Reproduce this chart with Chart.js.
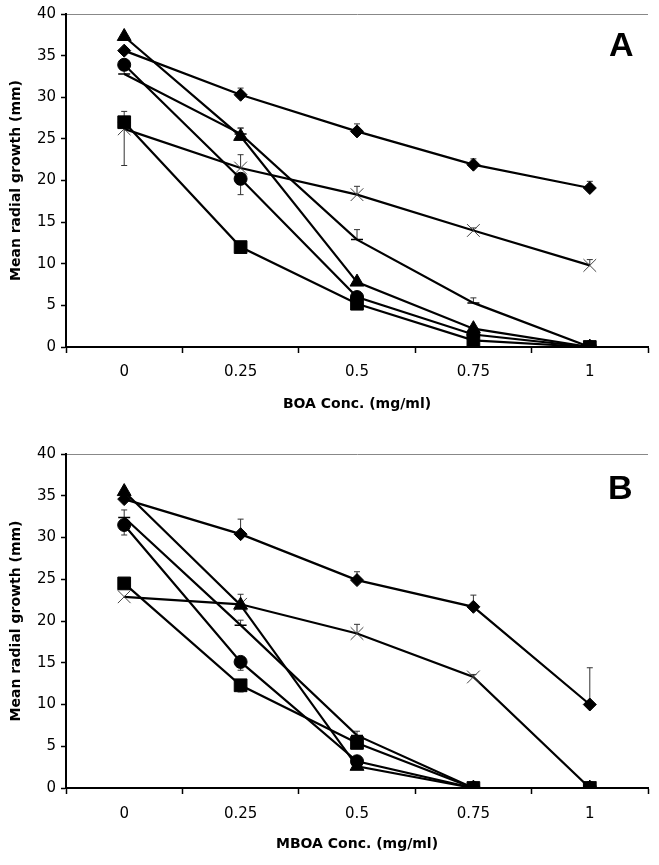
<!DOCTYPE html>
<html>
<head>
<meta charset="utf-8">
<script src="https://cdn.jsdelivr.net/npm/chart.js@4"></script>
<style>
  html, body { margin: 0; padding: 0; background: #fff; }
  .panel { position: absolute; left: 0; width: 659px; }
</style>
</head>
<body>
<div class="panel" style="top:0;height:415px"><canvas id="chartA"></canvas></div>
<div class="panel" style="top:420px;height:445px"><canvas id="chartB"></canvas></div>
<script>
// x categories (mg/ml) and y ticks
const concLabels = ['0', '0.25', '0.5', '0.75', '1'];
const yMin = 0, yMax = 40, yStep = 5;

// Panel A - BOA
const boaDiamond  = [35.6, 30.3, 25.9, 21.9, 19.1];
const boaSquare   = [27.0, 12.0, 5.2, 0.8, 0];
const boaTriangle = [37.3, 25.3, 7.8, 2.2, 0];
const boaCircle   = [33.9, 20.2, 6.0, 1.5, 0];
const boaCross    = [26.2, 21.5, 18.3, 14.0, 9.8];
const boaDash     = [32.8, 25.6, 12.9, 5.3, 0];
// error bars (mm), up / down
const boaDiamondUp  = [0, 0.8, 0.9, 0.7, 0.8];
const boaSquareUp   = [1.3, 0, 0, 0, 0];
const boaSquareDn   = [0, 0.5, 0, 0, 0];
const boaTriangleUp = [0, 1.0, 0, 0, 0];
const boaCircleDn   = [0, 1.9, 0, 0, 0];
const boaCrossUp    = [0, 1.6, 1.0, 0.3, 0.7];
const boaCrossDn    = [4.4, 0, 0, 0, 0];
const boaDashUp     = [0.7, 0.7, 1.2, 0.6, 0];

// Panel B - MBOA
const mboaDiamond  = [34.6, 30.4, 24.9, 21.7, 10.0];
const mboaSquare   = [24.5, 12.3, 5.4, 0, 0];
const mboaTriangle = [35.5, 21.9, 2.6, 0, 0];
const mboaCircle   = [31.5, 15.1, 3.2, 0, 0];
const mboaCross    = [22.9, 22.0, 18.5, 13.3, 0];
const mboaDash     = [32.4, 19.5, 6.3, 0, 0];
const mboaDiamondUp  = [0, 1.8, 1.0, 1.4, 4.4];
const mboaSquareDn   = [0, 0.8, 0, 0, 0];
const mboaTriangleUp = [0, 1.3, 0, 0, 0];
const mboaCircleDn   = [1.2, 1.0, 0, 0, 0];
const mboaCrossUp    = [0, 0, 1.1, 0.3, 0];
const mboaDashUp     = [0.9, 0.6, 0.5, 0, 0];

const markers = {
  square:   { pointStyle: 'rect',     pointRadius: 9,   pointBackgroundColor: '#000', pointBorderColor: '#000', pointBorderWidth: 1 },
  diamond:  { pointStyle: 'rectRot',  pointRadius: 6.5, pointBackgroundColor: '#000', pointBorderColor: '#000', pointBorderWidth: 1 },
  triangle: { pointStyle: 'triangle', pointRadius: 8,   pointBackgroundColor: '#000', pointBorderColor: '#000', pointBorderWidth: 1 },
  circle:   { pointStyle: 'circle',   pointRadius: 6.5, pointBackgroundColor: '#000', pointBorderColor: '#000', pointBorderWidth: 1 },
  cross:    { pointStyle: 'crossRot', pointRadius: 9,   pointBackgroundColor: '#444', pointBorderColor: '#444', pointBorderWidth: 1 },
  dash:     { pointStyle: 'line',     pointRadius: 6,   pointBackgroundColor: '#000', pointBorderColor: '#000', pointBorderWidth: 1.5 }
};

function series(values, marker, up, down) {
  return Object.assign({
    data: values,
    errUp: up || null,
    errDown: down || null,
    borderColor: '#000',
    borderWidth: 2.2,
    tension: 0,
    pointHoverRadius: 0
  }, markers[marker]);
}

// error bars drawn under the lines/markers
const errorBars = {
  id: 'errorBars',
  beforeDatasetsDraw(chart) {
    const ctx = chart.ctx, y = chart.scales.y;
    ctx.save();
    ctx.strokeStyle = '#333';
    ctx.lineWidth = 1;
    chart.data.datasets.forEach((ds, i) => {
      const pts = chart.getDatasetMeta(i).data;
      ds.data.forEach((v, j) => {
        if (v == null) return;
        const x = pts[j].x;
        [[ds.errUp, 1], [ds.errDown, -1]].forEach(([arr, s]) => {
          if (!arr || !arr[j]) return;
          const y0 = y.getPixelForValue(v), y1 = y.getPixelForValue(v + s * arr[j]);
          ctx.beginPath();
          ctx.moveTo(x, y0); ctx.lineTo(x, y1);
          ctx.moveTo(x - 3, y1); ctx.lineTo(x + 3, y1);
          ctx.stroke();
        });
      });
    });
    ctx.restore();
  }
};

const panelLabel = {
  id: 'panelLabel',
  afterDraw(chart, args, opts) {
    const ctx = chart.ctx;
    ctx.save();
    ctx.fillStyle = '#000';
    ctx.font = 'bold 34px "Liberation Sans", Arial, sans-serif';
    ctx.textBaseline = 'alphabetic';
    ctx.fillText(opts.text, opts.x, opts.y);
    ctx.restore();
  }
};

function makeChart(id, sets, xTitle, label, cfg) {
  return new Chart(document.getElementById(id), {
    type: 'line',
    data: { labels: concLabels, datasets: sets },
    options: {
      responsive: true,
      maintainAspectRatio: false,
      animation: false,
      layout: { padding: { top: cfg.top, right: 11, left: 0, bottom: 0 } },
      plugins: {
        legend: { display: false },
        tooltip: { enabled: false },
        panelLabel: label
      },
      scales: {
        x: {
          type: 'category',
          offset: true,
          grid: { offset: true, drawOnChartArea: false, drawTicks: true, tickLength: 6, tickColor: '#000', tickWidth: 1.5 },
          border: { color: '#000', width: 2 },
          ticks: { color: '#000', padding: cfg.xTickPad, font: { family: '"DejaVu Sans", Verdana, sans-serif', size: 15 } },
          title: { display: true, text: xTitle, color: '#000', padding: { top: 0, bottom: cfg.xTitlePad },
                   font: { family: '"DejaVu Sans", Verdana, sans-serif', size: 14, weight: 'bold' } },
          afterFit(scale) { scale.height = cfg.xHeight; }
        },
        y: {
          min: yMin, max: yMax,
          ticks: { stepSize: yStep, color: '#000', padding: 5, font: { family: '"DejaVu Sans", Verdana, sans-serif', size: 15 } },
          grid: {
            drawTicks: true, tickLength: 5, tickColor: '#000', tickWidth: 1.5,
            color: (c) => (c.tick && c.tick.value === yMax) ? '#888' : 'rgba(0,0,0,0)',
            lineWidth: 1
          },
          border: { color: '#000', width: 2 },
          title: { display: true, text: 'Mean radial growth (mm)', color: '#000', padding: { top: 8, bottom: 0 },
                   font: { family: '"DejaVu Sans", Verdana, sans-serif', size: 14, weight: 'bold' } },
          afterFit(scale) { scale.width = 66; }
        }
      }
    },
    plugins: [errorBars, panelLabel]
  });
}

makeChart('chartA', [
  series(boaSquare, 'square', boaSquareUp, boaSquareDn),
  series(boaDiamond, 'diamond', boaDiamondUp),
  series(boaTriangle, 'triangle', boaTriangleUp),
  series(boaCircle, 'circle', null, boaCircleDn),
  series(boaDash, 'dash', boaDashUp),
  series(boaCross, 'cross', boaCrossUp, boaCrossDn)
], 'BOA Conc. (mg/ml)', { text: 'A', x: 609, y: 56 },
  { top: 14, xHeight: 68, xTickPad: 10, xTitlePad: 2 });

makeChart('chartB', [
  series(mboaSquare, 'square', null, mboaSquareDn),
  series(mboaDiamond, 'diamond', mboaDiamondUp),
  series(mboaTriangle, 'triangle', mboaTriangleUp),
  series(mboaCircle, 'circle', null, mboaCircleDn),
  series(mboaDash, 'dash', mboaDashUp),
  series(mboaCross, 'cross', mboaCrossUp)
], 'MBOA Conc. (mg/ml)', { text: 'B', x: 608, y: 79 },
  { top: 34, xHeight: 77, xTickPad: 11, xTitlePad: 12 });
</script>
</body>
</html>
